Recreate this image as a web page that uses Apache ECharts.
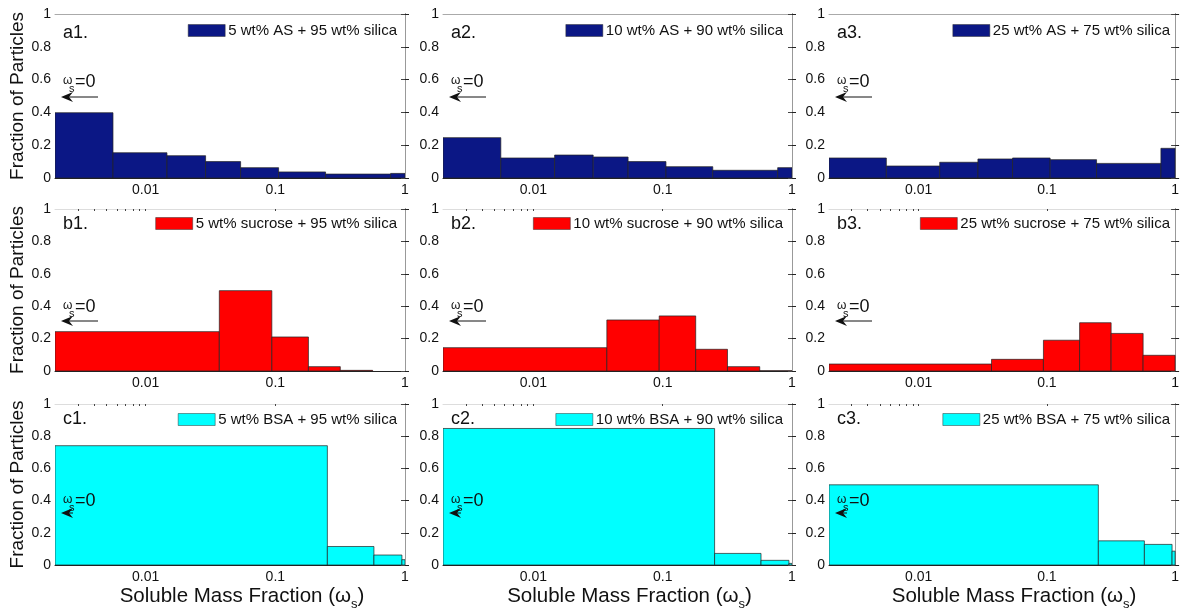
<!DOCTYPE html>
<html><head><meta charset="utf-8">
<script src="https://cdn.jsdelivr.net/npm/echarts@6/dist/echarts.min.js"></script>
<style>html,body{margin:0;padding:0;background:#fff}#c{width:1182px;height:612px}</style>
</head><body><div id="c"></div>
<script>
// ---------------- data ----------------
const AS_EDGES      = [0.002, 0.0056, 0.0146, 0.029, 0.054, 0.106, 0.244, 0.775, 1];
const SUCROSE_EDGES = [0.002, 0.037, 0.094, 0.18, 0.317, 0.563, 1];
const BSA_EDGES     = [0.002, 0.252, 0.576, 0.947, 1];

const A1_VALUES = [0.398, 0.154, 0.136, 0.100, 0.063, 0.037, 0.024, 0.028];
const A2_VALUES = [0.246, 0.122, 0.140, 0.128, 0.100, 0.069, 0.047, 0.063];
const A3_VALUES = [0.122, 0.073, 0.096, 0.116, 0.122, 0.112, 0.089, 0.181];
const B1_VALUES = [0.243, 0.496, 0.210, 0.027, 0.004, 0.000];
const B2_VALUES = [0.144, 0.315, 0.340, 0.134, 0.027, 0.002];
const B3_VALUES = [0.043, 0.072, 0.190, 0.298, 0.232, 0.097];
const C1_VALUES = [0.741, 0.115, 0.062, 0.033];
const C2_VALUES = [0.848, 0.072, 0.029, 0.010];
const C3_VALUES = [0.498, 0.150, 0.128, 0.086];

const PANEL_LABELS = ['a1.', 'a2.', 'a3.', 'b1.', 'b2.', 'b3.', 'c1.', 'c2.', 'c3.'];
const SERIES_NAMES = [
  '5 wt% AS + 95 wt% silica', '10 wt% AS + 90 wt% silica', '25 wt% AS + 75 wt% silica',
  '5 wt% sucrose + 95 wt% silica', '10 wt% sucrose + 90 wt% silica', '25 wt% sucrose + 75 wt% silica',
  '5 wt% BSA + 95 wt% silica', '10 wt% BSA + 90 wt% silica', '25 wt% BSA + 75 wt% silica'
];
const X_TICKS = [0.01, 0.1, 1];
const X_MINOR_TICKS = [0.003, 0.004, 0.005, 0.006, 0.007, 0.008, 0.009];
const X_MIN = 0.002, X_MAX = 1;
const Y_TICKS = [0, 0.2, 0.4, 0.6, 0.8, 1];
const Y_TITLE = 'Fraction of Particles';
const X_TITLE = 'Soluble Mass Fraction (ω{s|s})';

// ---------------- layout / style ----------------
const FONT = '"Liberation Sans", Arial, Helvetica, sans-serif';
const COLORS = ['#0b1785', '#ff0000', '#00ffff'];
const COL_LEFT = [55, 443, 829], COL_W = [350, 349, 351];
const ROW_TOP = [14, 209, 404], ROW_H = [164, 162, 162];
const LABEL_DY = [19, 15, 15];
const LEGEND_TOP = [23, 216, 412];
const LEGEND_RIGHT = [785, 399, 12];
const ANN_TEXT_Y = [82, 307, 501];
const ANN_ARROW_Y = [97, 321, 513];
const ANN_ARROW_LEN = [36, 36, 11];

const edgesByRow = [AS_EDGES, SUCROSE_EDGES, BSA_EDGES];
const valuesByPanel = [A1_VALUES, A2_VALUES, A3_VALUES, B1_VALUES, B2_VALUES, B3_VALUES, C1_VALUES, C2_VALUES, C3_VALUES];
const lg = Math.log10;

const grid = [], xAxis = [], yAxis = [], series = [], legend = [], graphic = [];

for (let r = 0; r < 3; r++) {
  for (let c = 0; c < 3; c++) {
    const i = r * 3 + c;
    const L = COL_LEFT[c], T = ROW_TOP[r];
    grid.push({left: L, top: T, width: COL_W[c], height: ROW_H[r], containLabel: false});

    // bottom x axis
    xAxis.push({
      type: 'value', gridIndex: i, position: 'bottom',
      min: lg(X_MIN), max: lg(X_MAX),
      axisLine: {show: true, onZero: false, lineStyle: {color: '#222', width: 1}},
      axisTick: {show: true, inside: true, length: 4, customValues: X_TICKS.slice(0, 2).map(lg), lineStyle: {color: '#222'}},
      axisLabel: {show: true, customValues: X_TICKS.map(lg), margin: 5, fontSize: 14, fontFamily: FONT, color: '#111',
        formatter: v => String(+Math.pow(10, v).toPrecision(2))},
      splitLine: {show: false},
      name: r === 2 ? X_TITLE : '', nameLocation: 'middle', nameGap: 16,
      nameTextStyle: {fontSize: 20.5, fontFamily: FONT, color: '#111', padding: [0, 0, 0, 24],
        rich: {s: {fontSize: 13, fontFamily: FONT, color: '#111', padding: [17, 0, 0, 0]}}}
    });
    // top x axis (box edge with minor ticks)
    xAxis.push({
      type: 'value', gridIndex: i, position: 'top',
      min: lg(X_MIN), max: lg(X_MAX),
      axisLine: {show: true, onZero: false, lineStyle: {color: r === 0 ? '#aaa' : '#ddd', width: 1}},
      axisTick: {show: r > 0, inside: true, length: 2,
        customValues: X_MINOR_TICKS.concat(X_TICKS.slice(0, 2)).map(lg), lineStyle: {color: '#444'}},
      axisLabel: {show: false}, splitLine: {show: false}
    });
    // left y axis
    yAxis.push({
      type: 'value', gridIndex: i, position: 'left', min: 0, max: 1, interval: 0.2,
      axisLine: {show: true, lineStyle: {color: '#222', width: 1}},
      axisTick: {show: true, inside: true, length: 4, lineStyle: {color: '#222'}},
      axisLabel: {margin: 4, fontSize: 14, fontFamily: FONT, color: '#111',
        formatter: v => String(Math.round(v * 10) / 10)},
      splitLine: {show: false},
      name: c === 0 ? Y_TITLE : '', nameLocation: 'middle', nameRotate: 90, nameGap: 28,
      nameTextStyle: {fontSize: 19, fontFamily: FONT, color: '#111'}
    });
    // right y axis (box edge)
    yAxis.push({
      type: 'value', gridIndex: i, position: 'right', min: 0, max: 1, interval: 0.2,
      axisLine: {show: true, lineStyle: {color: '#999', width: 1}},
      axisTick: {show: true, inside: true, length: 4, lineStyle: {color: '#444'}},
      axisLabel: {show: false}, splitLine: {show: false}
    });

    const edges = edgesByRow[r];
    const vals = valuesByPanel[i];
    const data = vals.map((v, k) => [lg(edges[k]), lg(edges[k + 1]), v]);
    series.push({
      type: 'custom', name: SERIES_NAMES[i],
      xAxisIndex: i * 2, yAxisIndex: i * 2,
      itemStyle: {color: COLORS[r]},
      encode: {x: [0, 1], y: 2},
      clip: true, z: 2,
      data: data,
      renderItem: function (params, api) {
        const h = api.value(2);
        if (!(h > 0)) return null;
        const p0 = api.coord([api.value(0), 0]);
        const p1 = api.coord([api.value(1), h]);
        return {
          type: 'rect',
          shape: {x: p0[0], y: p1[1], width: p1[0] - p0[0], height: p0[1] - p1[1]},
          style: {fill: COLORS[r], stroke: '#222', lineWidth: 0.7}
        };
      }
    });

    legend.push({
      data: [SERIES_NAMES[i]], right: LEGEND_RIGHT[c], top: LEGEND_TOP[r],
      padding: 0, itemWidth: 37, itemHeight: 12, icon: 'rect', selectedMode: false,
      itemStyle: {borderColor: '#333', borderWidth: 0.5},
      textStyle: {fontSize: 15, fontFamily: FONT, color: '#111', padding: [0, 0, 0, -2]}
    });

    // panel label
    graphic.push({type: 'text', x: L + 8, y: T + LABEL_DY[r], z: 100,
      style: {text: PANEL_LABELS[i], fill: '#111', fontSize: 18, fontFamily: FONT, verticalAlign: 'middle'}});
    // omega_s = 0 annotation
    const ty = ANN_TEXT_Y[r], ay = ANN_ARROW_Y[r];
    graphic.push({type: 'text', x: L + 8, y: ty - 1, z: 100,
      style: {text: 'ω', fill: '#111', fontSize: 12, fontFamily: FONT, verticalAlign: 'middle'}});
    graphic.push({type: 'text', x: L + 14, y: ty + 7, z: 100,
      style: {text: 's', fill: '#111', fontSize: 11, fontFamily: FONT, verticalAlign: 'middle'}});
    graphic.push({type: 'text', x: L + 20, y: ty, z: 100,
      style: {text: '=0', fill: '#111', fontSize: 18, fontFamily: FONT, verticalAlign: 'middle'}});
    graphic.push({type: 'line', z: 100,
      shape: {x1: L + 14, y1: ay, x2: L + 7 + ANN_ARROW_LEN[r], y2: ay},
      style: {stroke: '#111', lineWidth: 1}});
    graphic.push({type: 'polygon', z: 100,
      shape: {points: [[L + 6, ay], [L + 18, ay - 5], [L + 14, ay], [L + 18, ay + 5]]},
      style: {fill: '#111'}});
  }
}

const chart = echarts.init(document.getElementById('c'), null, {renderer: 'canvas'});
chart.setOption({
  animation: false,
  backgroundColor: '#fff',
  grid, xAxis, yAxis, series, legend, graphic
});
</script>
</body></html>
